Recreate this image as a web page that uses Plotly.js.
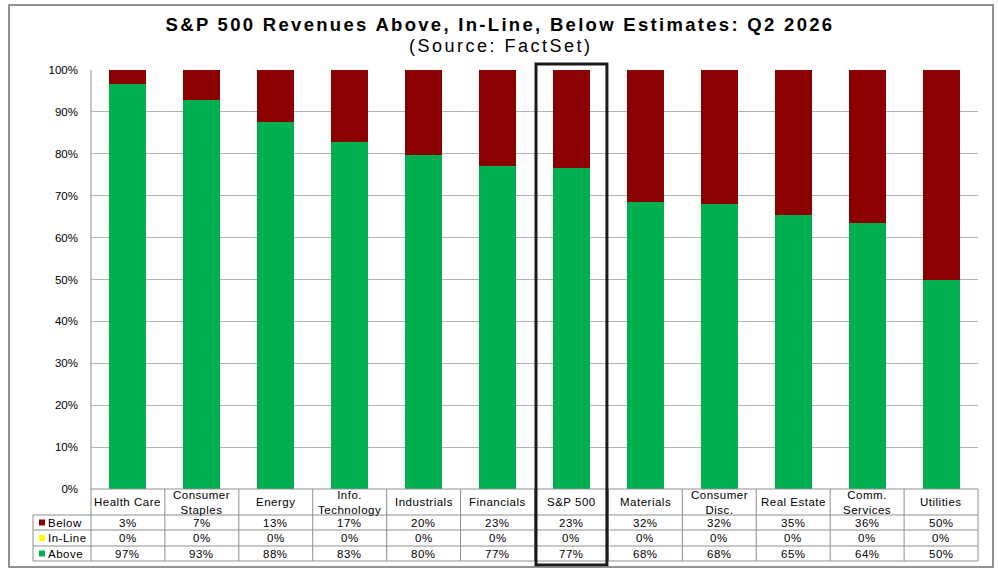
<!DOCTYPE html>
<html>
<head>
<meta charset="utf-8">
<script src="https://cdn.plot.ly/plotly-3.0.1.min.js"></script>
<style>html,body{margin:0;padding:0;background:#fff;}</style>
</head>
<body>
<div id="chart" style="width:998px;height:571px;"></div>
<script>
const categories = ["Health Care","Consumer Staples","Energy","Info. Technology","Industrials","Financials","S&P 500","Materials","Consumer Disc.","Real Estate","Comm. Services","Utilities"];
const categoryLabels = ["Health Care","Consumer<br>Staples","Energy","Info.<br>Technology","Industrials","Financials","S&P 500","Materials","Consumer<br>Disc.","Real Estate","Comm.<br>Services","Utilities"];
const above = [96.6, 92.9, 87.5, 82.9, 79.7, 77.1, 76.7, 68.4, 68.0, 65.4, 63.6, 50.0];
const inLine = [0, 0, 0, 0, 0, 0, 0, 0, 0, 0, 0, 0];
const below = [3.4, 7.1, 12.5, 17.1, 20.3, 22.9, 23.3, 31.6, 32.0, 34.6, 36.4, 50.0];
const yTicks = [0,10,20,30,40,50,60,70,80,90,100];

const FONT = '"Liberation Sans", Arial, sans-serif';
const C_ABOVE = '#00B050', C_INLINE = '#FFFF00', C_BELOW = '#8B0000';
const W = 998, H = 571;
const L = 91, R = 978, T = 70, B = 489;
const X = px => (px - L) / (R - L);
const Y = py => (B - py) / (B - T);
const n = categories.length;
const colW = (R - L) / n;
const sp = (s, ls) => '<span style="letter-spacing:' + ls + 'px">' + s + '</span>';

const traces = [
  {type:'bar', name:'Above', x:categories, y:above, marker:{color:C_ABOVE}, hoverinfo:'skip'},
  {type:'bar', name:'In-Line', x:categories, y:inLine, marker:{color:C_INLINE}, hoverinfo:'skip'},
  {type:'bar', name:'Below', x:categories, y:below, marker:{color:C_BELOW}, hoverinfo:'skip'}
];

const shapes = [];
const annotations = [];
const gridC = '#8f8f8f';
function hline(x0,x1,y,color,w){shapes.push({type:'line',xref:'paper',yref:'paper',x0:X(x0),x1:X(x1),y0:Y(y),y1:Y(y),line:{color:color||gridC,width:w||1},layer:'above'});}
function vline(x,y0,y1,color,w){shapes.push({type:'line',xref:'paper',yref:'paper',x0:X(x),x1:X(x),y0:Y(y0),y1:Y(y1),line:{color:color||gridC,width:w||1},layer:'above'});}

// table grid
hline(L, R, 489);
hline(33, R, 515);
hline(33, R, 530);
hline(33, R, 546);
hline(33, R, 561);
vline(33, 515, 561);
vline(L, T, 561);
for (let k = 1; k <= n; k++) vline(L + k*colW, 489, 561);

// table text
const TLS = 0.5;
const rowsVals = [below, inLine, above];
const rowCenters = [522.5, 538, 553.5];
for (let i = 0; i < n; i++) {
  const cx = X(L + (i+0.5)*colW);
  const lbl = categoryLabels[i].split('<br>').map(s => sp(s, TLS)).join('<br>');
  annotations.push({xref:'paper',yref:'paper',x:cx,y:Y(502),text:lbl,showarrow:false,xanchor:'center',yanchor:'middle',font:{family:FONT,size:11.5,color:'#000'}});
  rowsVals.forEach((arr, r) => {
    annotations.push({xref:'paper',yref:'paper',x:cx,y:Y(rowCenters[r]),text:sp(Math.round(arr[i])+'%', TLS),showarrow:false,xanchor:'center',yanchor:'middle',font:{family:FONT,size:11.5,color:'#000'}});
  });
}
// legend column
const legNames = ['Below','In-Line','Above'];
const legColors = [C_BELOW, C_INLINE, C_ABOVE];
legNames.forEach((nm, r) => {
  const cy = rowCenters[r];
  shapes.push({type:'rect',xref:'paper',yref:'paper',x0:X(39),x1:X(45),y0:Y(cy-3),y1:Y(cy+3),fillcolor:legColors[r],line:{width:0},layer:'above'});
  annotations.push({xref:'paper',yref:'paper',x:X(46),y:Y(cy),text:sp(nm, TLS),showarrow:false,xanchor:'left',yanchor:'middle',font:{family:FONT,size:11.5,color:'#000'}});
});

// S&P 500 highlight box
const spIdx = categories.indexOf('S&P 500');
shapes.push({type:'rect',xref:'paper',yref:'paper',x0:X(L + spIdx*colW + 1.5),x1:X(L + (spIdx+1)*colW - 1.5),y0:Y(565),y1:Y(64),line:{color:'#1a1a1a',width:3},fillcolor:'rgba(0,0,0,0)',layer:'above'});

// outer border
shapes.push({type:'rect',xref:'paper',yref:'paper',x0:X(9),x1:X(993),y0:Y(567),y1:Y(5),line:{color:'#6e6e6e',width:1.5},fillcolor:'rgba(0,0,0,0)',layer:'above'});

// subtitle
annotations.push({xref:'paper',yref:'paper',x:X(501),y:Y(46),text:sp('(Source: FactSet)', 2.5),showarrow:false,xanchor:'center',yanchor:'middle',font:{family:FONT,size:18,color:'#000'}});

const layout = {
  width:W, height:H,
  margin:{l:L, r:W-R, t:T, b:H-B, pad:0},
  paper_bgcolor:'#fff', plot_bgcolor:'#fff',
  title:{text:'<b>' + sp('S&P 500 Revenues Above, In-Line, Below Estimates: Q2 2026', 2.3) + '</b>', x:X(500), xref:'paper', xanchor:'center', y:1-25/H, yanchor:'middle', font:{family:FONT,size:18.5,color:'#000'}},
  barmode:'stack', bargap:0.5, showlegend:false,
  xaxis:{type:'category', showticklabels:false, ticks:'', showgrid:false, showline:false, zeroline:false, range:[-0.5, n-0.5], fixedrange:true},
  yaxis:{range:[0,100], tickvals:yTicks, ticktext:yTicks.map(v=>v+'%'), showgrid:true, gridcolor:'#b3b3b3', gridwidth:1, zeroline:false, showline:false, ticks:'', ticklabelstandoff:12, tickfont:{family:FONT,size:11.5,color:'#000'}, fixedrange:true},
  shapes:shapes, annotations:annotations
};
Plotly.newPlot('chart', traces, layout, {displayModeBar:false, staticPlot:true});
</script>
</body>
</html>
